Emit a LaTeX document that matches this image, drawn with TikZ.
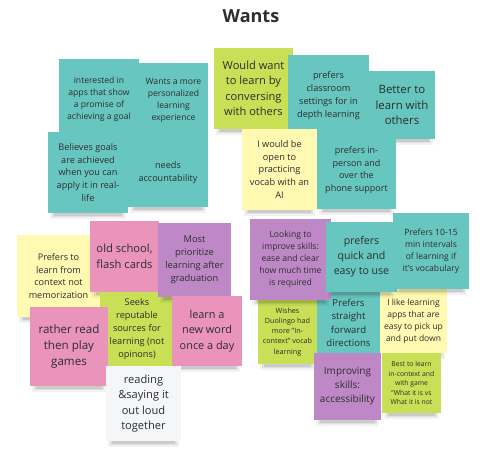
\documentclass[tikz,border=0pt]{standalone}
\usepackage{fontspec}
\setmainfont{Open Sans}
\definecolor{nteal}{RGB}{103,198,192}
\definecolor{ngreen}{RGB}{201,223,86}
\definecolor{nyellow}{RGB}{255,249,177}
\definecolor{npink}{RGB}{234,148,187}
\definecolor{npurple}{RGB}{190,136,199}
\definecolor{nwhite}{RGB}{245,246,248}
\definecolor{ntext}{RGB}{45,45,45}
\newcommand\fs[1]{\fontsize{#1pt}{\dimexpr#1pt*14/10\relax}\selectfont}
\tikzset{note/.style={inner sep=0pt, align=center, text=ntext}}
\newcommand\sticky[8]{%
  \fill[black,opacity=0.05] ({#3+2},{#6-3}) rectangle ({#5-2},{#6+6});
  \fill[black,opacity=0.07] ({#3+4},{#6-3}) rectangle ({#5-4},{#6+4});
  \fill[black,opacity=0.09] ({#3+6},{#6-3}) rectangle ({#5-6},{#6+2.5});
  \node[note, fill=#2, minimum width={(#5-#3)*1pt}, minimum height={(#6-#4)*1pt},
        font=\fs{#7}] (#1) at ({(#3+#5)/2},{(#4+#6)/2}) {#8};%
}
\begin{document}
\begin{tikzpicture}[x=1pt,y=-1pt]
\useasboundingbox[fill=white] (0,0) rectangle (496,453);
\node[anchor=base, text=ntext, font=\bfseries\fontsize{18}{22}\selectfont] (title) at (251,22.7) {Wants};
% top left group
\sticky{wants}{nteal}{139}{63}{208}{138}{8.6}{Wants a more\\personalized\\learning\\experience}
\sticky{interested}{nteal}{59}{59}{139}{139}{8.6}{interested in\\apps that show\\a promise of\\achieving a goal}
\sticky{needs}{nteal}{128}{138}{208}{207}{9.1}{needs\\accountability}
\sticky{believes}{nteal}{48}{132}{128}{213}{9.1}{Believes goals\\are achieved\\when you can\\apply it in real-\\life}
% top middle group
\sticky{conversing}{ngreen}{214}{48}{293}{129}{11.1}{Would want\\to learn by\\conversing\\with others}
\sticky{better}{nteal}{369}{71}{435}{139}{11.4}{Better to\\learn with\\others}
\sticky{classroom}{nteal}{288}{55}{369}{136}{9.2}{prefers\\classroom\\settings for in\\depth learning}
\sticky{openai}{nyellow}{242}{129}{317}{210}{9.2}{I would be\\open to\\practicing\\vocab with an\\AI}
\sticky{inperson}{nteal}{317}{131}{396}{209}{9}{prefers in-\\person and\\over the\\phone support}
% bottom left group
\sticky{context}{nyellow}{17}{235}{100}{317}{9.1}{Prefers to\\learn from\\context not\\memorization}
\sticky{oldschool}{npink}{90}{221}{159}{292}{11.2}{old school,\\flash cards}
\sticky{seeks}{ngreen}{100}{292}{174}{366}{9.2}{Seeks\\reputable\\sources for\\learning (not\\opinons)}
\sticky{rather}{npink}{30}{307}{108}{386}{11.6}{rather read\\then play\\games}
\sticky{prioritize}{npurple}{158}{223}{231}{297}{9.3}{Most\\prioritize\\learning after\\graduation}
\sticky{newword}{npink}{172}{296}{242}{366}{10.9}{learn a\\new word\\once a day}
\sticky{reading}{nwhite}{106}{366}{181}{441}{11.1}{reading\\\&saying it\\out loud\\together}
% bottom right group
\sticky{wishes}{ngreen}{258}{300}{317}{364}{7.2}{Wishes\\Duolingo had\\more "In-\\context" vocab\\learning}
\sticky{straight}{nteal}{317}{292}{380}{354}{9.6}{Prefers\\straight\\forward\\directions}
\sticky{pickup}{nyellow}{380}{289}{447}{353}{8.5}{I like learning\\apps that are\\easy to pick up\\and put down}
\sticky{best}{ngreen}{382}{353}{441}{413}{6.8}{Best to learn\\in-context and\\with game\\"What it is vs\\What it is not}
\sticky{improving}{npurple}{314}{353}{381}{420}{10}{Improving\\skills:\\accessibility}
\sticky{looking}{npurple}{250}{219}{331}{300}{8.6}{Looking to\\improve skills:\\ease and clear\\how much time\\is required}
\sticky{quick}{nteal}{326}{222}{397}{292}{10.6}{prefers\\quick and\\easy to use}
\sticky{intervals}{nteal}{393}{213}{469}{289}{8.6}{Prefers 10-15\\min intervals\\of learning if\\it's vocabulary}
\end{tikzpicture}
\end{document}
